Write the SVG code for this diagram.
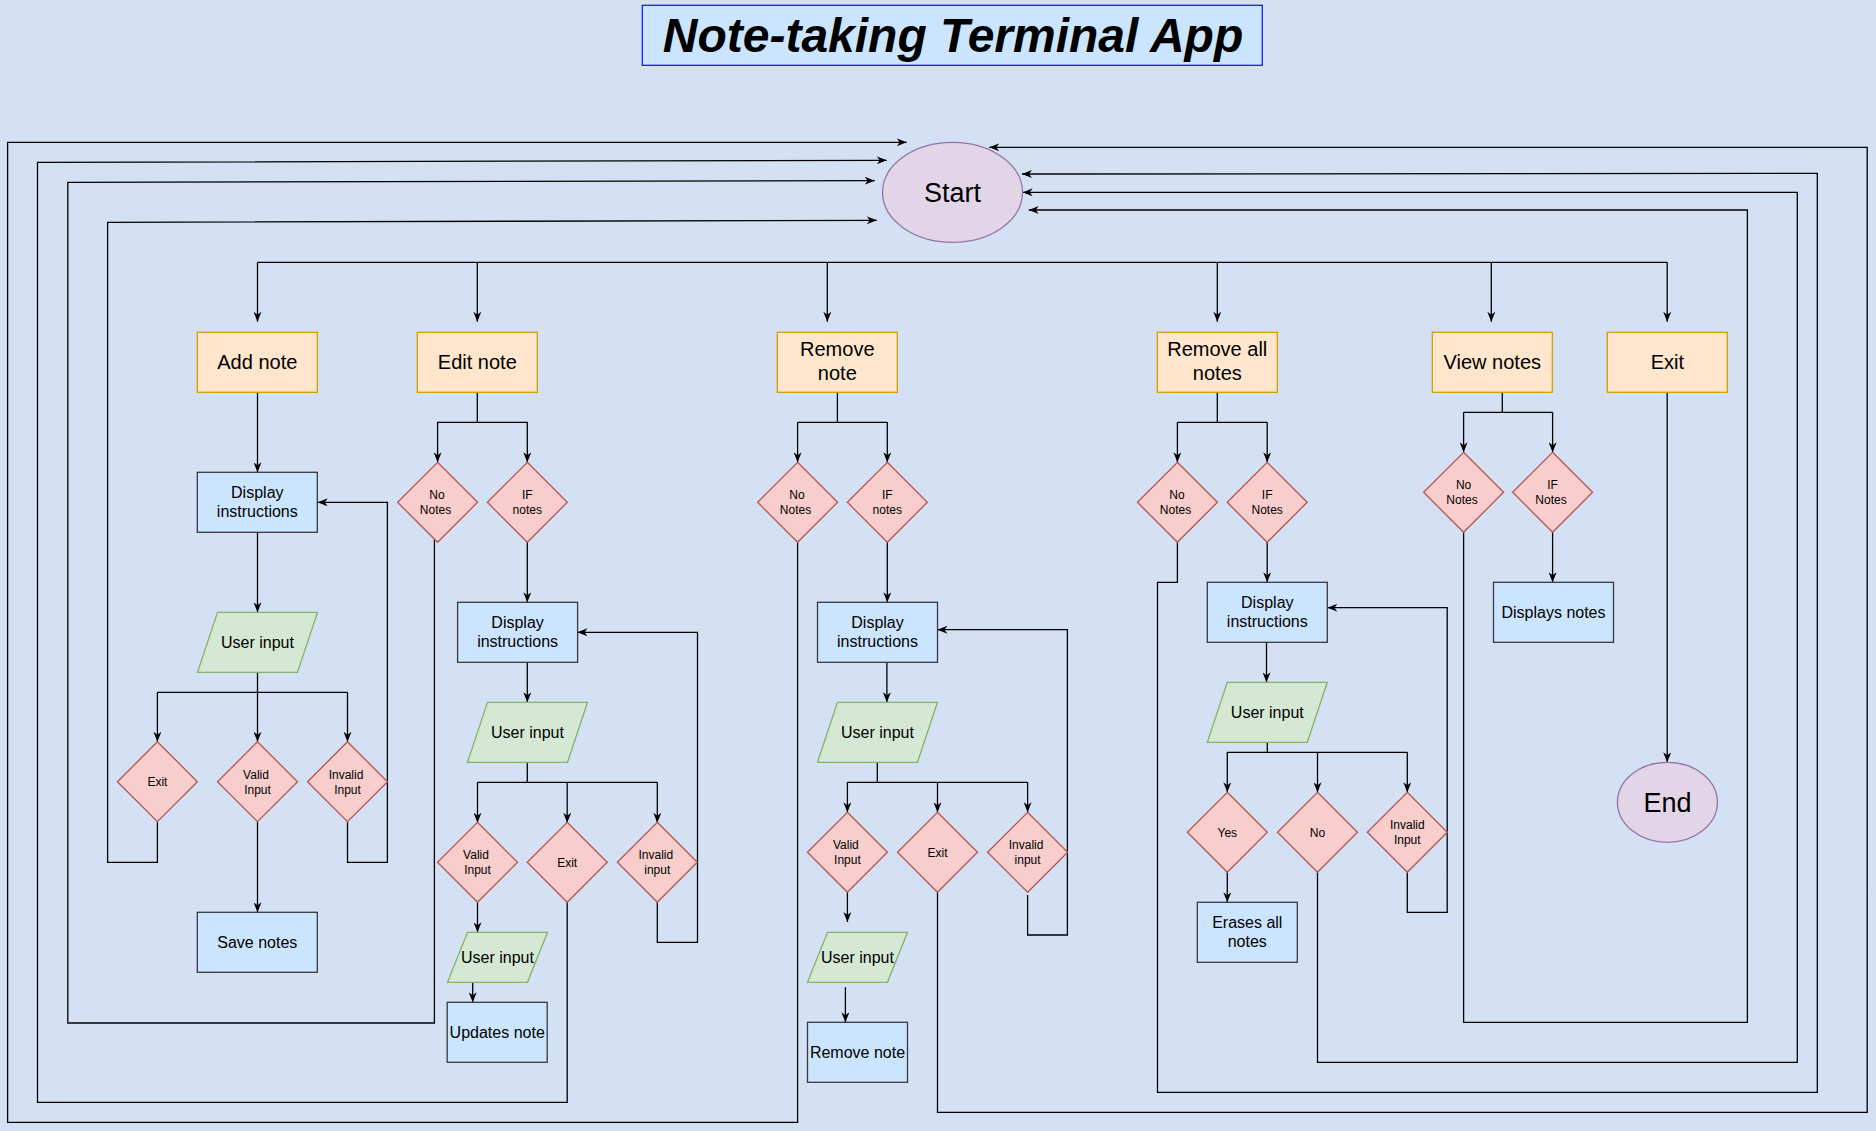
<svg xmlns="http://www.w3.org/2000/svg" width="1876" height="1131" viewBox="0 0 1876 1131">
<defs>
<marker id="arr" viewBox="0 0 10 8" refX="10" refY="4" markerWidth="10" markerHeight="8" markerUnits="userSpaceOnUse" orient="auto">
<path d="M0,0 L10,4 L0,8 L3,4 Z" fill="#000"/>
</marker>
<style>
text{font-family:"Liberation Sans",Arial,Helvetica,sans-serif;fill:#000;text-anchor:middle}
.op{fill:#ffe6cc;stroke:#d79b00;stroke-width:1.3}
.pr{fill:#cce5ff;stroke:#36393d;stroke-width:1.3}
.io{fill:#d5e8d4;stroke:#82b366;stroke-width:1.3}
.dc{fill:#f8cecc;stroke:#b85450;stroke-width:1.3}
.te{fill:#e1d5e7;stroke:#9673a6;stroke-width:1.3}
.t20{font-size:20px}
.t16{font-size:16px}
.t12{font-size:12px}
.t27{font-size:27px}
#connectors path{fill:none;stroke:#000;stroke-width:1.3}
#connectors path.a{marker-end:url(#arr)}
</style>
</defs>
<rect x="0" y="0" width="1876" height="1131" fill="#d4e1f5"/>

<g id="title">
<rect x="642.3" y="5.3" width="620" height="60" fill="#cce5ff" stroke="#1a1aff" stroke-width="1.3"/>
<text x="953" y="52" style="font-size:48px;font-weight:bold;font-style:italic">Note-taking Terminal App</text>
</g>

<g id="connectors">
<!-- main bus -->
<path d="M257.5,262.3 H1667.2"/>
<path class="a" d="M257.5,262.3 V321.7"/>
<path class="a" d="M477.3,262.3 V321.7"/>
<path class="a" d="M827.3,262.3 V321.7"/>
<path class="a" d="M1217.3,262.3 V321.7"/>
<path class="a" d="M1491.3,262.3 V321.7"/>
<path class="a" d="M1667.2,262.3 V321.7"/>
<!-- Add note -->
<path class="a" d="M257.5,392.3 V472.3"/>
<path class="a" d="M257.5,532.3 V612.3"/>
<path d="M257.5,672.3 V692.3 M157.4,692.3 H347.5"/>
<path class="a" d="M157.4,692.3 V741.7"/>
<path class="a" d="M257.5,692.3 V741.7"/>
<path class="a" d="M347.5,692.3 V741.7"/>
<path class="a" d="M157.4,821.7 V862.3 H107.6 V222.3 L876.7,220.3"/>
<path class="a" d="M347.5,821.7 V862.3 H387.4 V502.3 H317.7"/>
<path class="a" d="M257.5,821.7 V912.3"/>
<!-- Edit note -->
<path class="a" d="M477.3,392.3 V422.3 H437.6 V462.3"/>
<path class="a" d="M477.3,422.3 H527.3 V462.3"/>
<path class="a" d="M434.4,539.5 V1023 H67.8 V182.3 L874.7,180.7"/>
<path class="a" d="M527.3,542.3 V602.3"/>
<path class="a" d="M527.3,662.3 V702.3"/>
<path d="M527.3,762.3 V782.3 M477.5,782.3 H657.3"/>
<path class="a" d="M477.5,782.3 V822.7"/>
<path class="a" d="M567.2,782.3 V822.7"/>
<path class="a" d="M657.3,782.3 V822.7"/>
<path class="a" d="M477.5,902.3 V932.3"/>
<path class="a" d="M472.7,982.3 V1002.3"/>
<path class="a" d="M567.2,902.3 V1102.3 H37.5 V162.3 L886.7,160.3"/>
<path class="a" d="M657.3,902.3 V942.3 H697.5 V632.3 H577.5"/>
<!-- Remove note -->
<path d="M837.4,392.3 V422.3 M797.6,422.3 H887.3"/>
<path class="a" d="M797.6,422.3 V462.3"/>
<path class="a" d="M887.3,422.3 V462.3"/>
<path class="a" d="M797.6,542.3 V1122.3 H7.6 V142.3 H906.7"/>
<path class="a" d="M887.3,542.3 V602.3"/>
<path class="a" d="M886.9,662.3 V702.3"/>
<path d="M877.3,762.3 V782.3 M847.4,782.3 H1027.6"/>
<path class="a" d="M847.4,782.3 V812.3"/>
<path class="a" d="M937.5,782.3 V812.3"/>
<path class="a" d="M1027.6,782.3 V812.3"/>
<path class="a" d="M847.4,892.3 V922"/>
<path class="a" d="M845.4,987.3 V1022.3"/>
<path class="a" d="M937.5,892.3 V1112.3 H1867.2 V147.3 H989.3"/>
<path class="a" d="M1027.6,895 V935 H1067.4 V629.7 H937.5"/>
<!-- Remove all notes -->
<path d="M1217.3,392.3 V422.3 M1177.4,422.3 H1267.2"/>
<path class="a" d="M1177.4,422.3 V462.3"/>
<path class="a" d="M1267.2,422.3 V462.3"/>
<path class="a" d="M1177.4,542.3 V582.3 H1157.5 V1092.3 H1817.3 V173.3 L1022,174"/>
<path class="a" d="M1267.2,542.3 V582.3"/>
<path class="a" d="M1266.5,642.3 V682.3"/>
<path d="M1267.3,742.3 V752.3 M1227.3,752.3 H1407.3"/>
<path class="a" d="M1227.3,752.3 V792.3"/>
<path class="a" d="M1317.5,752.3 V792.3"/>
<path class="a" d="M1407.3,752.3 V792.3"/>
<path class="a" d="M1227.3,872.3 V902.3"/>
<path class="a" d="M1317.5,872.3 V1062.3 H1797.3 V192.3 H1022.7"/>
<path class="a" d="M1407.3,872.3 V912.3 H1447.2 V607.7 H1327.4"/>
<!-- View notes -->
<path d="M1502.3,382.3 V412.3 M1463.6,412.3 H1552.6"/>
<path class="a" d="M1463.6,412.3 V452.3"/>
<path class="a" d="M1552.6,412.3 V452.3"/>
<path class="a" d="M1463.6,532.3 V1022.3 H1747.4 V210 H1028.7"/>
<path class="a" d="M1552.6,532.3 V582.3"/>
<!-- Exit -->
<path class="a" d="M1667.2,392.3 V762.3"/>
</g>

<g id="start"><ellipse class="te" cx="952.5" cy="192.3" rx="70" ry="50"/><text class="t27" x="952.5" y="202">Start</text></g>
<g id="end"><ellipse class="te" cx="1667.4" cy="802.3" rx="50" ry="40"/><text class="t27" x="1667.4" y="812">End</text></g>

<g id="add-note"><rect class="op" x="197.3" y="332.3" width="120" height="60"/><text class="t20" x="257.3" y="369.3">Add note</text></g>
<g id="edit-note"><rect class="op" x="417.3" y="332.3" width="120" height="60"/><text class="t20" x="477.3" y="369.3">Edit note</text></g>
<g id="remove-note"><rect class="op" x="777.3" y="332.3" width="120" height="60"/><text class="t20" x="837.3" y="356.4">Remove</text><text class="t20" x="837.3" y="380.3">note</text></g>
<g id="remove-all"><rect class="op" x="1157.3" y="332.3" width="120" height="60"/><text class="t20" x="1217.3" y="356.4">Remove all</text><text class="t20" x="1217.3" y="380.3">notes</text></g>
<g id="view-notes"><rect class="op" x="1432.3" y="332.3" width="120" height="60"/><text class="t20" x="1492.3" y="369.3">View notes</text></g>
<g id="exit"><rect class="op" x="1607.3" y="332.3" width="120" height="60"/><text class="t20" x="1667.3" y="369.3">Exit</text></g>

<g id="add-display"><rect class="pr" x="197.3" y="472.3" width="120" height="60"/><text class="t16" x="257.3" y="497.5">Display</text><text class="t16" x="257.3" y="516.7">instructions</text></g>
<g id="add-input"><polygon class="io" points="217.5,612.3 317.5,612.3 297.5,672.3 197.5,672.3"/><text class="t16" x="257.5" y="648">User input</text></g>
<g id="add-exit"><polygon class="dc" points="157.4,741.7 197.4,781.7 157.4,821.7 117.4,781.7"/><text class="t12" x="157.4" y="786">Exit</text></g>
<g id="add-valid"><polygon class="dc" points="257.5,741.7 297.5,781.7 257.5,821.7 217.5,781.7"/><text class="t12" x="256" y="778.5">Valid</text><text class="t12" x="257.5" y="793.5">Input</text></g>
<g id="add-invalid"><polygon class="dc" points="347.5,741.7 387.5,781.7 347.5,821.7 307.5,781.7"/><text class="t12" x="346" y="778.5">Invalid</text><text class="t12" x="347.5" y="793.5">Input</text></g>
<g id="save-notes"><rect class="pr" x="197.3" y="912.3" width="120" height="60"/><text class="t16" x="257.3" y="948">Save notes</text></g>

<g id="edit-nonotes"><polygon class="dc" points="437.6,462.3 477.6,502.3 437.6,542.3 397.6,502.3"/><text class="t12" x="437" y="499.1">No</text><text class="t12" x="435.5" y="514.1">Notes</text></g>
<g id="edit-ifnotes"><polygon class="dc" points="527.3,462.3 567.3,502.3 527.3,542.3 487.3,502.3"/><text class="t12" x="527.3" y="499.1">IF</text><text class="t12" x="527.3" y="514.1">notes</text></g>
<g id="edit-display"><rect class="pr" x="457.6" y="602.3" width="120" height="60"/><text class="t16" x="517.6" y="627.5">Display</text><text class="t16" x="517.6" y="646.7">instructions</text></g>
<g id="edit-input"><polygon class="io" points="487.5,702.3 587.5,702.3 567.5,762.3 467.5,762.3"/><text class="t16" x="527.5" y="738">User input</text></g>
<g id="edit-valid"><polygon class="dc" points="477.5,822.3 517.5,862.3 477.5,902.3 437.5,862.3"/><text class="t12" x="476" y="859.1">Valid</text><text class="t12" x="477.5" y="874.1">Input</text></g>
<g id="edit-exit"><polygon class="dc" points="567.2,822.3 607.2,862.3 567.2,902.3 527.2,862.3"/><text class="t12" x="567.2" y="866.6">Exit</text></g>
<g id="edit-invalid"><polygon class="dc" points="657.3,822.3 697.3,862.3 657.3,902.3 617.3,862.3"/><text class="t12" x="655.8" y="859.1">Invalid</text><text class="t12" x="657.3" y="874.1">input</text></g>
<g id="edit-input2"><polygon class="io" points="467.5,932.3 547.5,932.3 527.5,982.3 447.5,982.3"/><text class="t16" x="497.5" y="963">User input</text></g>
<g id="updates-note"><rect class="pr" x="447.2" y="1002.3" width="100" height="60"/><text class="t16" x="497.2" y="1038">Updates note</text></g>

<g id="remove-nonotes"><polygon class="dc" points="797.6,462.3 837.6,502.3 797.6,542.3 757.6,502.3"/><text class="t12" x="797" y="499.1">No</text><text class="t12" x="795.5" y="514.1">Notes</text></g>
<g id="remove-ifnotes"><polygon class="dc" points="887.3,462.3 927.3,502.3 887.3,542.3 847.3,502.3"/><text class="t12" x="887.3" y="499.1">IF</text><text class="t12" x="887.3" y="514.1">notes</text></g>
<g id="remove-display"><rect class="pr" x="817.5" y="602.3" width="120" height="60"/><text class="t16" x="877.5" y="627.5">Display</text><text class="t16" x="877.5" y="646.7">instructions</text></g>
<g id="remove-input"><polygon class="io" points="837.5,702.3 937.5,702.3 917.5,762.3 817.5,762.3"/><text class="t16" x="877.5" y="738">User input</text></g>
<g id="remove-valid"><polygon class="dc" points="847.4,812.3 887.4,852.3 847.4,892.3 807.4,852.3"/><text class="t12" x="845.9" y="849.1">Valid</text><text class="t12" x="847.4" y="864.1">Input</text></g>
<g id="remove-exit"><polygon class="dc" points="937.5,812.3 977.5,852.3 937.5,892.3 897.5,852.3"/><text class="t12" x="937.5" y="856.6">Exit</text></g>
<g id="remove-invalid"><polygon class="dc" points="1027.6,812.3 1067.6,852.3 1027.6,892.3 987.6,852.3"/><text class="t12" x="1026.1" y="849.1">Invalid</text><text class="t12" x="1027.6" y="864.1">input</text></g>
<g id="remove-input2"><polygon class="io" points="827.5,932.3 907.5,932.3 887.5,982.3 807.5,982.3"/><text class="t16" x="857.5" y="963">User input</text></g>
<g id="remove-note-box"><rect class="pr" x="807.5" y="1022.3" width="100" height="60"/><text class="t16" x="857.5" y="1058">Remove note</text></g>

<g id="removeall-nonotes"><polygon class="dc" points="1177.4,462.3 1217.4,502.3 1177.4,542.3 1137.4,502.3"/><text class="t12" x="1177" y="499.1">No</text><text class="t12" x="1175.5" y="514.1">Notes</text></g>
<g id="removeall-ifnotes"><polygon class="dc" points="1267.2,462.3 1307.2,502.3 1267.2,542.3 1227.2,502.3"/><text class="t12" x="1267.2" y="499.1">IF</text><text class="t12" x="1267.2" y="514.1">Notes</text></g>
<g id="removeall-display"><rect class="pr" x="1207.3" y="582.3" width="120" height="60"/><text class="t16" x="1267.3" y="607.5">Display</text><text class="t16" x="1267.3" y="626.7">instructions</text></g>
<g id="removeall-input"><polygon class="io" points="1227.3,682.3 1327.3,682.3 1307.3,742.3 1207.3,742.3"/><text class="t16" x="1267.3" y="718">User input</text></g>
<g id="removeall-yes"><polygon class="dc" points="1227.3,792.3 1267.3,832.3 1227.3,872.3 1187.3,832.3"/><text class="t12" x="1227.3" y="836.6">Yes</text></g>
<g id="removeall-no"><polygon class="dc" points="1317.5,792.3 1357.5,832.3 1317.5,872.3 1277.5,832.3"/><text class="t12" x="1317.5" y="836.6">No</text></g>
<g id="removeall-invalid"><polygon class="dc" points="1407.3,792.3 1447.3,832.3 1407.3,872.3 1367.3,832.3"/><text class="t12" x="1407.3" y="829.1">Invalid</text><text class="t12" x="1407.3" y="844.1">Input</text></g>
<g id="erases"><rect class="pr" x="1197.3" y="902.3" width="100" height="60"/><text class="t16" x="1247.3" y="927.5">Erases all</text><text class="t16" x="1247.3" y="946.7">notes</text></g>

<g id="view-nonotes"><polygon class="dc" points="1463.6,452.3 1503.6,492.3 1463.6,532.3 1423.6,492.3"/><text class="t12" x="1463.6" y="489.1">No</text><text class="t12" x="1462" y="504.1">Notes</text></g>
<g id="view-ifnotes"><polygon class="dc" points="1552.6,452.3 1592.6,492.3 1552.6,532.3 1512.6,492.3"/><text class="t12" x="1552.6" y="489.1">IF</text><text class="t12" x="1551" y="504.1">Notes</text></g>
<g id="displays-notes"><rect class="pr" x="1493.5" y="582.3" width="120" height="60"/><text class="t16" x="1553.5" y="618">Displays notes</text></g>
</svg>
